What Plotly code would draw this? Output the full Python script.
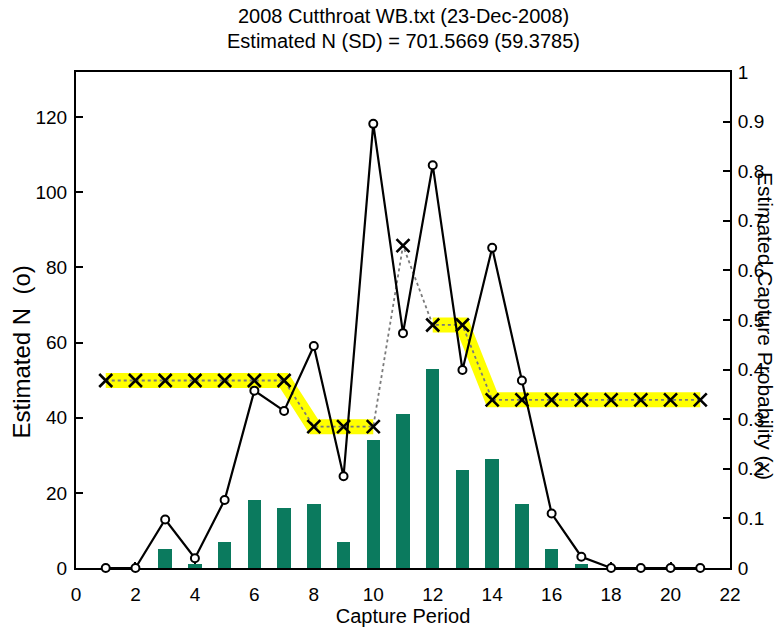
import plotly.graph_objects as go

# Capture period index
periods = list(range(1, 22))

# Fish captured in each period (bars)
captures = [0, 0, 5, 1, 7, 18, 16, 17, 7, 34, 41, 53, 26, 29, 17, 5, 1, 0, 0, 0, 0]

# Estimated population N per period (open circles)
est_n = [0, 0, 12.9, 2.6, 18.1, 47.2, 41.8, 59.1, 24.4, 118.2, 62.5, 107.2,
         52.7, 85.2, 49.9, 14.5, 3.0, 0, 0, 0, 0]

# Estimated capture probability per period (x markers)
cap_prob = [0.378, 0.378, 0.378, 0.378, 0.378, 0.378, 0.378,
            0.285, 0.285, 0.285,
            0.650,
            0.490, 0.490,
            0.339, 0.339, 0.339, 0.339, 0.339, 0.339, 0.339, 0.339]

# Periods sharing a pooled probability (highlighted groups)
pooled_groups = [list(range(0, 10)), list(range(11, 21))]

title_1 = "2008 Cutthroat WB.txt (23-Dec-2008)"
title_2 = "Estimated N (SD) = 701.5669 (59.3785)"
x_ticks = list(range(0, 23, 2))
n_ticks = list(range(0, 121, 20))
p_ticks = [i / 10 for i in range(0, 11)]

FONT = "Liberation Sans, Arial, Helvetica, sans-serif"
TEAL = "#0b7a5e"
YELLOW = "#ffff00"

W, H = 777, 632
ML, MR, MT, MB = 76, 45, 72, 54
PW, PH = W - ML - MR, H - MT - MB

fig = go.Figure()

# Probability layer (primary y, right side) drawn first
for grp in pooled_groups:
    fig.add_trace(go.Scatter(
        x=[periods[i] for i in grp], y=[cap_prob[i] for i in grp],
        mode="lines", line=dict(color=YELLOW, width=15),
        yaxis="y", hoverinfo="skip", showlegend=False))

fig.add_trace(go.Scatter(
    x=periods, y=cap_prob, mode="lines",
    line=dict(color="#7a7a7a", width=1.8, dash="dot"),
    yaxis="y", showlegend=False))

fig.add_trace(go.Scatter(
    x=periods, y=cap_prob, mode="markers",
    marker=dict(symbol="x-thin", size=13, color="black",
                line=dict(color="black", width=2.6)),
    yaxis="y", showlegend=False))

# Population layer (overlaying y2, left side)
fig.add_trace(go.Bar(
    x=periods, y=captures, width=0.45, marker=dict(color=TEAL, line=dict(width=0)),
    yaxis="y2", showlegend=False))

fig.add_trace(go.Scatter(
    x=periods, y=est_n, mode="lines+markers",
    line=dict(color="black", width=2.2),
    marker=dict(symbol="circle", size=8, color="white",
                line=dict(color="black", width=2)),
    yaxis="y2", showlegend=False, cliponaxis=False))

axis_font = dict(family=FONT, size=19, color="black")

fig.update_layout(
    width=W, height=H,
    margin=dict(l=ML, r=MR, t=MT, b=MB),
    paper_bgcolor="white", plot_bgcolor="white",
    font=dict(family=FONT, color="black"),
    bargap=0,
    xaxis=dict(
        range=[0, 22], tickvals=x_ticks, ticks="inside", ticklen=6,
        tickwidth=1.5, tickcolor="black", showline=True, linecolor="black",
        linewidth=2, mirror=True, showgrid=False, zeroline=False,
        tickfont=axis_font, ticklabelstandoff=8, layer="below traces",
        title=dict(text="Capture Period", font=dict(family=FONT, size=20),
                   standoff=1)),
    yaxis=dict(
        side="right", range=[0, 1], tickvals=p_ticks, ticks="inside",
        ticklen=7, tickwidth=1.5, tickcolor="black", showline=True,
        linecolor="black", linewidth=2, showgrid=False, zeroline=False,
        tickfont=axis_font, ticklabelstandoff=2),
    yaxis2=dict(
        side="left", overlaying="y", range=[0, 132], tickvals=n_ticks,
        ticks="inside", ticklen=7, tickwidth=1.5, tickcolor="black",
        showline=True, linecolor="black", linewidth=2, showgrid=False,
        zeroline=False, tickfont=axis_font, ticklabelstandoff=3),
)


def px_x(px):
    return (px - ML) / PW


def px_y(py):
    return (H - MB - py) / PH


# Figure title (two lines)
fig.add_annotation(text=title_1, xref="paper", yref="paper", x=0.5,
                   y=px_y(15), xanchor="center", yanchor="middle",
                   showarrow=False, font=dict(family=FONT, size=20))
fig.add_annotation(text=title_2, xref="paper", yref="paper", x=0.5,
                   y=px_y(40), xanchor="center", yanchor="middle",
                   showarrow=False, font=dict(family=FONT, size=20))

# Axis titles
fig.add_annotation(text="Estimated N  (o)", xref="paper", yref="paper",
                   x=px_x(21), y=px_y(358), xanchor="center", yanchor="middle",
                   textangle=-90, showarrow=False,
                   font=dict(family=FONT, size=24))
fig.add_annotation(text="Estimated Capture Probability (x)", xref="paper",
                   yref="paper", x=px_x(767), y=px_y(331),
                   xanchor="center", yanchor="middle", textangle=90,
                   showarrow=False, font=dict(family=FONT, size=21))

fig.write_html("out.html")
